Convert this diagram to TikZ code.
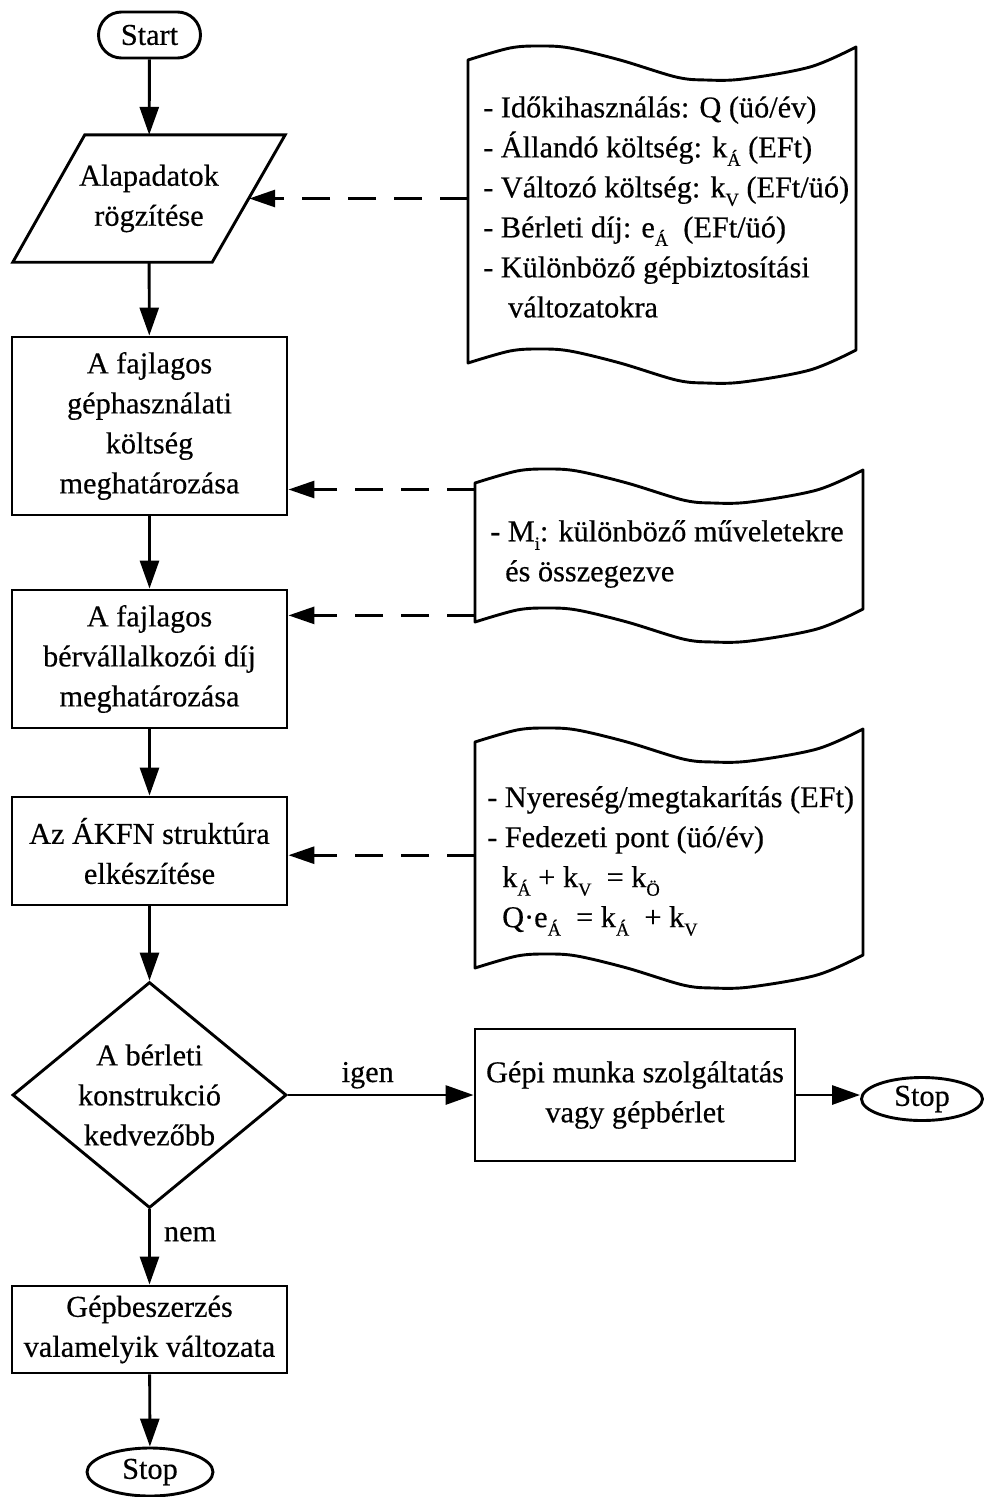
\documentclass[tikz,border=0pt]{standalone}
\usepackage{fontspec}
\setmainfont{Liberation Serif}[FakeBold=0.4]
\usetikzlibrary{arrows.meta,shapes.geometric,calc}
\newcommand\sbs[1]{\raisebox{-0.28em}{\fontsize{18.5}{18.5}\selectfont #1}}
\newcommand\tapeoutline[2]{%
  \begin{scope}[shift={(#1.north west)}]
    \draw[ln, line join=round] plot[smooth,tension=0.55] coordinates {(0,0) (42,-12) (72,-14) (102,-12) (152,0) (208,17) (238,20) (275,19) (342,7) (388,-13)}
      -- (388,#2-13)
      -- plot[smooth,tension=0.55] coordinates {(388,#2-13) (342,#2+7) (275,#2+19) (238,#2+20) (208,#2+17) (152,#2) (102,#2-12) (72,#2-14) (42,#2-12) (0,#2)}
      -- cycle;
  \end{scope}}
\begin{document}
\begin{tikzpicture}[x=1pt,y=-1pt,
  every node/.style={font=\fontsize{30.3}{40}\selectfont},
  ln/.style={line width=2.9pt},
  proc/.style={ln, draw, rectangle, minimum width=275, minimum height=#1, inner sep=0, align=center},
  term/.style={ln, draw, rectangle, rounded corners=23pt, minimum width=102, minimum height=46, inner sep=0},
  stopn/.style={ln, draw, ellipse, minimum width=126, minimum height=48, inner sep=0},
  parabody/.style={draw=none, rectangle, minimum width=200, minimum height=127, inner sep=0, align=center},
  diam/.style={ln, draw, diamond, minimum width=274, minimum height=226, inner sep=0},
  tape/.style={draw=none, rectangle, minimum width=388, minimum height=#1, inner sep=0},
  txt/.style={align=left, inner sep=0},
  lbl/.style={inner sep=0},
  arr/.style={ln, -{Triangle[length=28pt,width=19pt]}},
  darr/.style={ln, dash pattern=on 28pt off 18pt, -{Triangle[length=26pt,width=17pt]}}
]
\useasboundingbox (0,0) rectangle (983,1497);

% main column
\node[term] (start) at (149.5,35) {Start};
\node[parabody] (alap) at (149,198.5) {Alapadatok\\rögzítése};
\draw[ln, line join=miter] ([xshift=36pt]alap.north west) -- ([xshift=36pt]alap.north east)
   -- ([xshift=-37pt]alap.south east) -- ([xshift=-36pt]alap.south west) -- cycle;
\node[proc=178] (b1) at (149.5,426) {A fajlagos\\géphasználati\\költség\\meghatározása};
\node[proc=138] (b2) at (149.5,659) {A fajlagos\\bérvállalkozói díj\\meghatározása};
\node[proc=108] (b3) at (149.5,851) {Az ÁKFN struktúra\\elkészítése};
\node[diam, label={[align=center, inner sep=0, name=dect]center:A bérleti\\konstrukció\\kedvezőbb}] (dec) at (149.5,1095) {};
\node[proc=87] (b4) at (149.5,1329.5) {Gépbeszerzés\\valamelyik változata};
\node[stopn] (stop1) at (150,1472) {Stop};
\node[proc=132, minimum width=320] (b5) at (635,1095) {Gépi munka szolgáltatás\\vagy gépbérlet};
\node[stopn, minimum width=121, minimum height=43] (stop2) at (922,1099) {Stop};

% documents
\node[tape=303, anchor=north west] (d1) at (468,60) {};
\node[tape=139, anchor=north west] (d2) at (475,483) {};
\node[tape=226, anchor=north west] (d3) at (475,742) {};
\tapeoutline{d1}{303}
\tapeoutline{d2}{139}
\tapeoutline{d3}{226}

\node[txt, anchor=west] (t1) at (483,207) {- Időkihasználás: Q (üó/év)\\- Állandó költség: k\sbs{Á} (EFt)\\- Változó költség: k\sbs{V} (EFt/üó)\\- Bérleti díj: e\sbs{Á}\ \ (EFt/üó)\\- Különböző gépbiztosítási\\\hspace{25pt}változatokra};
\node[txt, anchor=west] (t2) at (490,554) {- M\sbs{i}: különböző műveletekre\\\hspace{15pt}és összegezve};
\node[txt, anchor=west] (t3) at (487,861) {- Nyereség/megtakarítás (EFt)\\- Fedezeti pont (üó/év)\\\hspace{15pt}k\sbs{Á} + k\sbs{V}\ \ = k\sbs{Ö}\\\hspace{15pt}Q·e\sbs{Á}\ \ = k\sbs{Á}\ \ + k\sbs{V}};

% connectors
\draw[arr] (start) -- (alap);
\draw[arr] (alap) -- (b1);
\draw[arr] (b1) -- (b2);
\draw[arr] (b2) -- (b3);
\draw[arr] (b3) -- (dec);
\draw[arr] (dec.south) -- node[lbl, pos=0.33, right=13pt] (nem) {nem} (b4.north);
\draw[arr] (dec.east) -- node[lbl, pos=0.43, above=5pt] (igen) {igen} (b5.west);
\draw[arr] (b4) -- (stop1);
\draw[arr] (b5.east) -- (b5.east -| stop2.west);

\coordinate (d2a) at ([yshift=-6.5pt]d2.north west);
\coordinate (d2b) at ([yshift=7pt]d2.south west);
\draw[darr] (d1.west |- alap.east) -- (alap.east);
\draw[darr] (d2a) -- (d2a -| b1.east);
\draw[darr] (d2b) -- (d2b -| b2.east);
\draw[darr] (d3.west) -- (d3.west -| b3.east);
\end{tikzpicture}
\end{document}
